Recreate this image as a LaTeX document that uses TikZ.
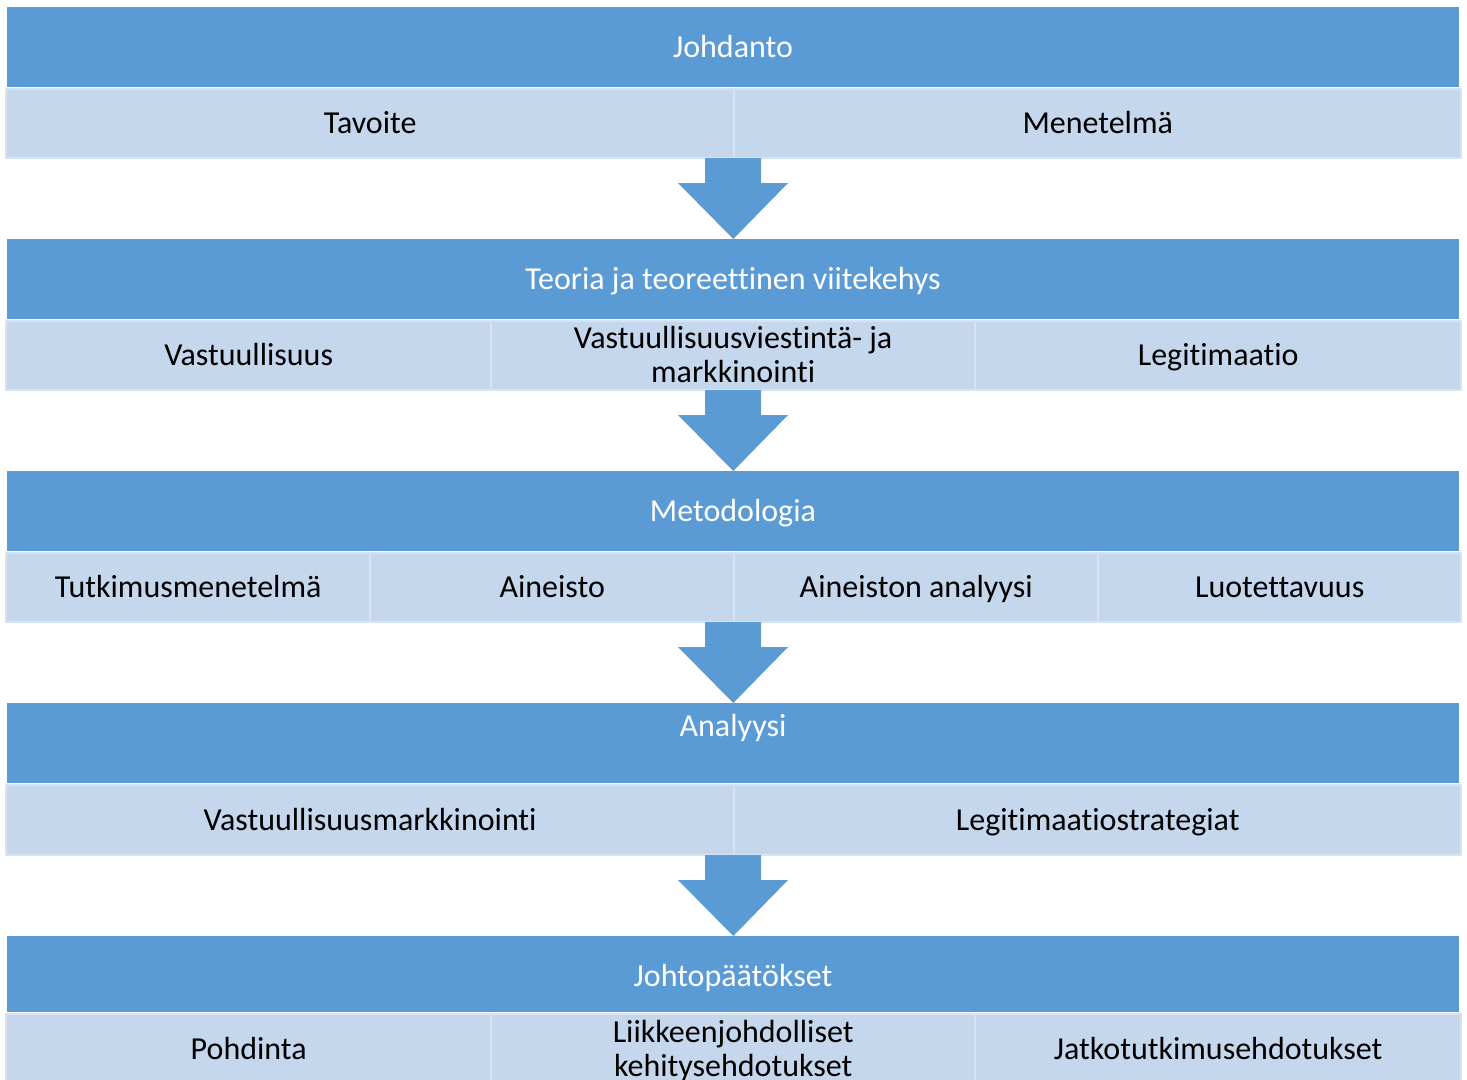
\documentclass[tikz,border=0pt]{standalone}
\usepackage{fontspec}
\setmainfont{Carlito}[Ligatures=NoCommon]
\usetikzlibrary{calc}
\definecolor{hdark}{HTML}{5B9BD5}
\definecolor{hlight}{HTML}{C5D7EC}
\definecolor{hedge}{HTML}{D7E3F1}
\tikzset{
  hdr/.style={fill=hdark, draw=none, inner sep=0pt, anchor=north west},
  cell/.style={fill=hlight, draw=hedge, line width=1.8pt, inner sep=0pt, anchor=north west},
  htext/.style={text=white, font=\fontsize{24}{25.5}\selectfont, inner sep=0pt, yshift=-2.5pt,
    execute at begin node={\strut}, execute at end node={\strut}},
  ctext/.style={text=black, font=\fontsize{24}{25.5}\selectfont, inner sep=0pt, align=center, yshift=-2.5pt,
    execute at begin node={\strut}, execute at end node={\strut}},
  bigarrow/.style={fill=hdark, draw=none},
}
\newcommand{\mkcell}[6]{% name, x1, x2, ytop, ybot, text
  \node[cell, minimum width={(#3-#2)*0.75pt}, minimum height={(#5-#4)*0.75pt}] (#1) at (#2,#4) {};
  \node[ctext] (#1t) at ($(#1.center)$) {#6};
}
\newcommand{\mkhdr}[5]{% name, ytop, ybot, text y, text
  \node[hdr, minimum width={1452*0.75pt}, minimum height={(#3-#2)*0.75pt}] (#1) at (7,#2) {};
  \node[htext] (#1t) at (733,#4) {#5};
}
\newcommand{\mkarrow}[2]{% from coordinate (above), to node (below)
  \fill[bigarrow] ($(#1)+(-28,1)$) -- ++(56,0) -- ++(0,25) -- ++(27,0)
     -- ($(#2.north)$) -- ($(#1)+(-55,26)$) -- ++(27,0) -- cycle;
}
\begin{document}
\begin{tikzpicture}[x=0.75pt,y=-0.75pt]
\clip (0,0) rectangle (1467,1079);
\fill[white] (0,0) rectangle (1467,1079);
% Row 1
\mkhdr{h1}{7}{87}{47}{Johdanto}
\mkcell{c11}{5}{733}{88}{157}{Tavoite}
\mkcell{c12}{733}{1460}{88}{157}{Menetelmä}
% Row 2
\mkhdr{h2}{239}{319}{279}{Teoria ja teoreettinen viitekehys}
\mkcell{c21}{5}{490}{320}{389}{Vastuullisuus}
\mkcell{c22}{490}{974}{320}{389}{Vastuullisuusviestintä- ja\\markkinointi}
\mkcell{c23}{974}{1460}{320}{389}{Legitimaatio}
% Row 3
\mkhdr{h3}{471}{551}{511}{Metodologia}
\mkcell{c31}{5}{369}{552}{621}{Tutkimusmenetelmä}
\mkcell{c32}{369}{733}{552}{621}{Aineisto}
\mkcell{c33}{733}{1097}{552}{621}{Aineiston analyysi}
\mkcell{c34}{1097}{1460}{552}{621}{Luotettavuus}
% Row 4
\mkhdr{h4}{703}{783}{726}{Analyysi}
\mkcell{c41}{5}{733}{784}{854}{Vastuullisuusmarkkinointi}
\mkcell{c42}{733}{1460}{784}{854}{Legitimaatiostrategiat}
% Row 5
\mkhdr{h5}{936}{1012}{976}{Johtopäätökset}
\mkcell{c51}{5}{490}{1013}{1084}{Pohdinta}
\mkcell{c52}{490}{974}{1013}{1084}{Liikkeenjohdolliset\\kehitysehdotukset}
\mkcell{c53}{974}{1460}{1013}{1084}{Jatkotutkimusehdotukset}
% Arrows
\coordinate (s1) at (733,157);
\coordinate (s2) at (733,389);
\coordinate (s3) at (733,621);
\coordinate (s4) at (733,854);
\mkarrow{s1}{h2}
\mkarrow{s2}{h3}
\mkarrow{s3}{h4}
\mkarrow{s4}{h5}
\end{tikzpicture}
\end{document}
